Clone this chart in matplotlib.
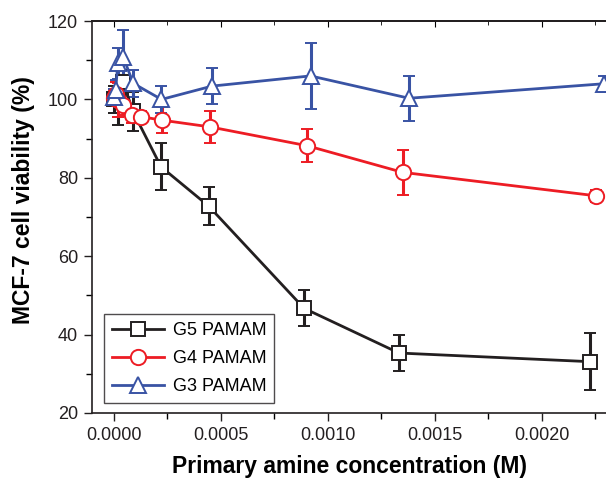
import numpy as np
import matplotlib.pyplot as plt
from matplotlib.ticker import MultipleLocator
from matplotlib.lines import Line2D

# G5 PAMAM (black squares)
g5_x = [0.0, 0.00002, 0.000045, 0.00009, 0.000222, 0.000444, 0.00089, 0.001333, 0.002223]
g5_y = [100.0, 100.5, 104.5, 97.0, 82.8, 72.8, 46.7, 35.3, 33.1]
g5_err = [3.5, 7.0, 3.0, 5.0, 6.0, 4.9, 4.6, 4.7, 7.2]

# G4 PAMAM (red circles)
g4_x = [0.0, 0.00001, 0.00002, 0.000045, 0.000087, 0.000129, 0.000227, 0.00045, 0.000903, 0.00135, 0.002255]
g4_y = [100.3, 101.5, 99.8, 98.5, 96.0, 95.6, 94.7, 93.0, 88.2, 81.4, 75.4]
g4_err = [2.0, 3.0, 4.3, 2.5, 2.0, 1.5, 3.3, 4.0, 4.2, 5.7, 1.5]

# G3 PAMAM (blue triangles)
g3_x = [0.0, 0.00001, 0.00002, 0.000045, 0.000092, 0.000224, 0.00046, 0.00092, 0.00138, 0.00229]
g3_y = [100.7, 102.5, 109.2, 110.9, 104.1, 100.0, 103.4, 106.0, 100.3, 104.0]
g3_err = [2.0, 2.5, 4.0, 6.8, 3.5, 3.5, 4.5, 8.5, 5.8, 2.0]

xticks = [0.0, 0.0005, 0.0010, 0.0015, 0.0020]
yticks = [20, 40, 60, 80, 100, 120]

plt.rcParams['font.family'] = ['Liberation Sans', 'DejaVu Sans']

fig = plt.figure(figsize=(6.06, 4.78), dpi=100)
ax = fig.add_axes([0.152, 0.136, 0.848, 0.82])

series = [
    (g5_x, g5_y, g5_err, '#231f20', 's', 9.5, 'G5 PAMAM'),
    (g4_x, g4_y, g4_err, '#ed1c24', 'o', 11, 'G4 PAMAM'),
    (g3_x, g3_y, g3_err, '#3953a4', '^', 11, 'G3 PAMAM'),
]
handles = []
for xs, ys, es, col, mk, ms, lab in series:
    ax.errorbar(xs, ys, yerr=es, color=col, lw=2, elinewidth=2.2, capsize=4,
                capthick=2.2, marker=mk, markersize=ms,
                markerfacecolor='white', markeredgecolor=col, markeredgewidth=1.4,
                clip_on=False, zorder=3)
    handles.append(Line2D([], [], color=col, lw=2, marker=mk, markersize=ms,
                          markerfacecolor='white', markeredgecolor=col,
                          markeredgewidth=1.4, label=lab))

ax.set_xlim(-0.0001, 0.0023)
ax.set_ylim(20, 120)
ax.set_xticks(xticks)
ax.set_xticklabels([f'{v:.4f}' for v in xticks])
ax.set_yticks(yticks)
ax.xaxis.set_minor_locator(MultipleLocator(0.00025))
ax.yaxis.set_minor_locator(MultipleLocator(10))
ax.tick_params(axis='both', which='major', direction='out', length=6, width=1,
               labelsize=13, colors='#231f20', pad=4)
ax.tick_params(axis='both', which='minor', direction='out', length=4, width=1)

ax.spines['right'].set_visible(False)
for s in ['left', 'bottom', 'top']:
    ax.spines[s].set_linewidth(1.2)
    ax.spines[s].set_color('#231f20')

# inward ticks on the top edge
top = ax.secondary_xaxis('top')
top.set_xticks(xticks)
top.xaxis.set_minor_locator(MultipleLocator(0.00025))
top.tick_params(which='major', direction='in', length=4, labeltop=False)
top.tick_params(which='minor', direction='in', length=3)
top.spines['top'].set_linewidth(1.2)

ax.set_xlabel('Primary amine concentration (M)', fontsize=16.5, fontweight='bold', labelpad=8)
ax.set_ylabel('MCF-7 cell viability (%)', fontsize=16.5, fontweight='bold')
ax.yaxis.set_label_coords(-0.112, 0.543)

leg = ax.legend(handles=handles, loc='lower left', bbox_to_anchor=(0.023, 0.025),
                fontsize=13, frameon=True, fancybox=False, edgecolor='#231f20',
                handlelength=2.9, handletextpad=0.45, borderpad=0.45,
                labelspacing=0.6, borderaxespad=0)
leg.get_frame().set_linewidth(1.0)

fig.savefig('out.png', dpi=100)
